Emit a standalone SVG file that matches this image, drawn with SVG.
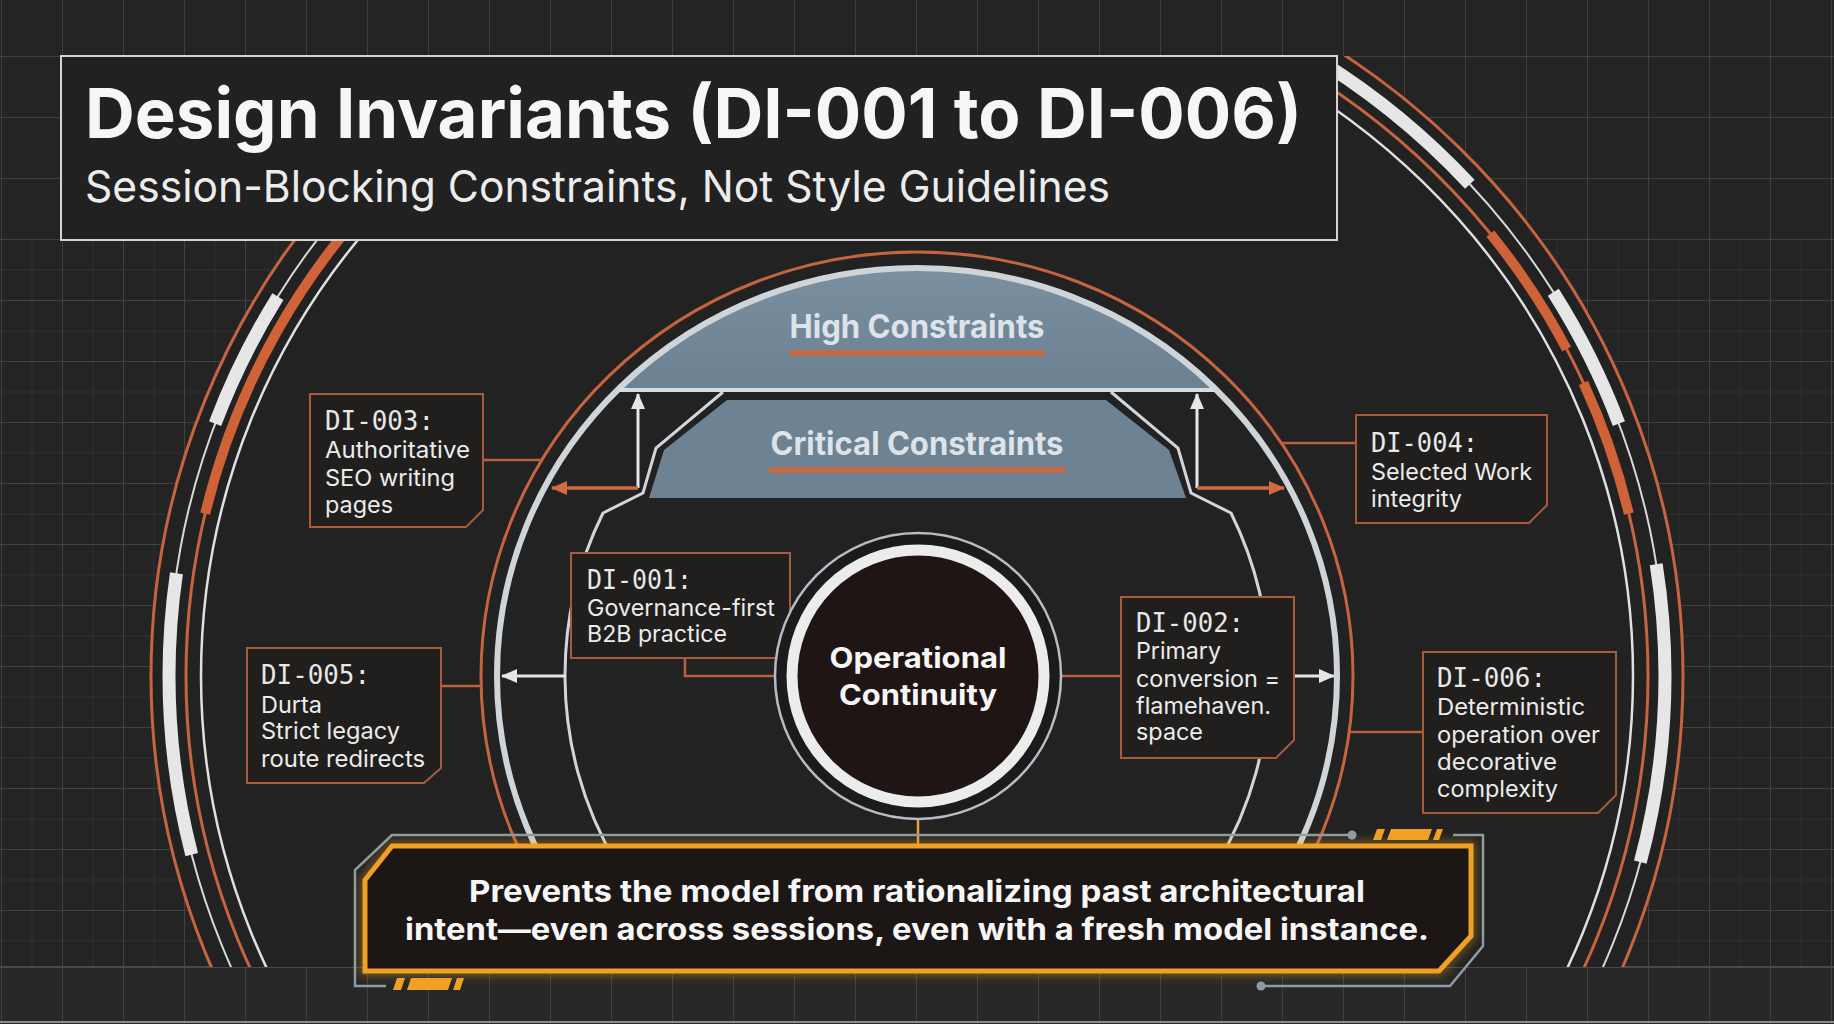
<svg xmlns="http://www.w3.org/2000/svg" width="1834" height="1024" viewBox="0 0 1834 1024">
<defs>
<pattern id="gc" patternUnits="userSpaceOnUse" x="1" y="56" width="61" height="61">
<path d="M0 0H61M0 0V61" fill="none" stroke="#474747" stroke-width="1.5"/>
</pattern>
<pattern id="gf" patternUnits="userSpaceOnUse" x="1" y="56" width="30.5" height="30.5">
<path d="M0 0H30.5M0 0V30.5" fill="none" stroke="#3b3b3b" stroke-width="1"/>
</pattern>
<pattern id="gv" patternUnits="userSpaceOnUse" x="1" y="0" width="61" height="61">
<path d="M0 0V61" fill="none" stroke="#474747" stroke-width="1.5"/>
</pattern>
<clipPath id="cr"><rect x="0" y="56" width="1834" height="911"/></clipPath>
<marker id="aw" markerUnits="userSpaceOnUse" viewBox="0 0 16 14" markerWidth="16" markerHeight="14" refX="15" refY="7" orient="auto"><path d="M0 0L16 7L0 14Z" fill="#e4e6e8"/></marker>
<marker id="ao" markerUnits="userSpaceOnUse" viewBox="0 0 16 14" markerWidth="16" markerHeight="14" refX="15" refY="7" orient="auto"><path d="M0 0L16 7L0 14Z" fill="#d06a42"/></marker>
<filter id="glow" x="-5%" y="-30%" width="110%" height="160%"><feGaussianBlur stdDeviation="5"/></filter>
<linearGradient id="hg" x1="0" y1="0" x2="0" y2="1"><stop offset="0" stop-color="#7a8fa0"/><stop offset="1" stop-color="#6b8090"/></linearGradient>
</defs>
<style>
.sans{font-family:Inter,"Noto Sans","Liberation Sans",sans-serif}
.ttl{font-weight:700;fill:#f6f6f6}
.sub{font-weight:400;fill:#ececec}
.mono{font-family:"DejaVu Sans Mono","Liberation Mono",monospace;font-size:26px;fill:#e8e8e8}
.body{font-family:Inter,"Noto Sans","Liberation Sans",sans-serif;font-size:23px;fill:#ececec}
.box{fill:#211f1e;stroke:#a65b3d;stroke-width:2}
.lo{fill:none;stroke:#c5643f;stroke-width:3}
.cn{fill:none;stroke:#b9613f;stroke-width:2.5}
.cw{fill:none;stroke:#e4e6e8;stroke-width:3}
.co{fill:none;stroke:#d06a42;stroke-width:3.5}
.wt{fill:none;stroke:#e6e6e6;stroke-width:13}
.ot{fill:none;stroke:#cf6236;stroke-width:10}
.lbl{font-family:Inter,"Noto Sans","Liberation Sans",sans-serif;font-weight:700;font-size:32px;fill:#dde3e8}
.dash{fill:#f0a024}
.gf{fill:none;stroke:#8c9ba6;stroke-width:2.5}
</style>

<g id="background">
<rect width="1834" height="1024" fill="#242424"/>
<rect x="0" y="240" width="1834" height="727" fill="url(#gf)"/>
<rect width="1834" height="967" fill="url(#gc)"/>
<rect x="0" y="967" width="1834" height="57" fill="#272727"/>
<rect x="0" y="967" width="1834" height="57" fill="url(#gv)"/>
<path d="M0 967H1834" stroke="#4a4a4a" stroke-width="2"/>
<path d="M0 1022H1834" stroke="#8a8a8a" stroke-width="2"/>
</g>

<g id="outer-rings" clip-path="url(#cr)">
<ellipse cx="917" cy="676" rx="766" ry="748" fill="#222222"/>
<ellipse class="lo" cx="917" cy="676" rx="766" ry="748"/>
<ellipse cx="917" cy="676" rx="748" ry="730" fill="none" stroke="#d8d8d8" stroke-width="2"/>
<ellipse class="wt" cx="917" cy="676" rx="748" ry="730" pathLength="360" stroke-dasharray="22 338" stroke-dashoffset="-166"/>
<ellipse class="wt" cx="917" cy="676" rx="748" ry="730" pathLength="360" stroke-dasharray="11 349" stroke-dashoffset="-200"/>
<ellipse class="wt" cx="917" cy="676" rx="748" ry="730" pathLength="360" stroke-dasharray="22 338" stroke-dashoffset="-296"/>
<ellipse class="wt" cx="917" cy="676" rx="748" ry="730" pathLength="360" stroke-dasharray="11.4 348.6" stroke-dashoffset="-328.6"/>
<ellipse class="wt" cx="917" cy="676" rx="748" ry="730" pathLength="360" stroke-dasharray="23.3 336.7" stroke-dashoffset="-351.3"/>
<ellipse class="lo" cx="917" cy="676" rx="731" ry="713"/>
<ellipse class="ot" cx="917" cy="676" rx="731" ry="713" pathLength="360" stroke-dasharray="31 329" stroke-dashoffset="-193"/>
<ellipse class="ot" cx="917" cy="676" rx="731" ry="713" pathLength="360" stroke-dasharray="11 349" stroke-dashoffset="-322"/>
<ellipse class="ot" cx="917" cy="676" rx="731" ry="713" pathLength="360" stroke-dasharray="11 349" stroke-dashoffset="-336"/>
<ellipse cx="917" cy="676" rx="716" ry="698" fill="none" stroke="#e0e0e0" stroke-width="2.5"/>
</g>

<g id="inner-rings" clip-path="url(#cr)">
<ellipse class="lo" cx="917" cy="676" rx="436" ry="424" stroke-width="3.5"/>
<path d="M617 390A420 408 0 0 1 1217 390Z" fill="url(#hg)"/>
<ellipse cx="917" cy="676" rx="420" ry="408" fill="none" stroke="#cfd4d8" stroke-width="6"/>
<path d="M619 390H1215" stroke="#d7dce0" stroke-width="4"/>
<path d="M727 400H1106L1169 450L1186 498H649L664 450Z" fill="#6d8292"/>
<path d="M723 392L656 448L643 493L603 513A352 360 0 1 0 1231 513L1191 493L1178 448L1111 392" fill="none" stroke="#d2d6da" stroke-width="3"/>
</g>

<g id="high-constraints">
<text class="lbl" x="917" y="338" text-anchor="middle" textLength="255" lengthAdjust="spacingAndGlyphs">High Constraints</text>
<rect x="790" y="350" width="255" height="6" fill="#c46a48"/>
</g>
<g id="critical-constraints">
<text class="lbl" x="917" y="455" text-anchor="middle" textLength="293" lengthAdjust="spacingAndGlyphs">Critical Constraints</text>
<rect x="769" y="467" width="297" height="6" fill="#c46a48"/>
</g>

<g id="connectors">
<path class="cw" d="M638 488V394" marker-end="url(#aw)"/>
<path class="cw" d="M1197 488V394" marker-end="url(#aw)"/>
<path class="co" d="M638 488H552" marker-end="url(#ao)"/>
<path class="co" d="M1197 488H1284" marker-end="url(#ao)"/>
<path class="cw" d="M566 676H502" marker-end="url(#aw)"/>
<path class="cw" d="M1294 676H1334" marker-end="url(#aw)"/>
<path class="cn" d="M1060 676H1121"/>
<path class="cn" d="M685 658V676H778"/>
<path class="cn" d="M484 460H541"/>
<path class="cn" d="M1281 443H1356"/>
<path class="cn" d="M441 686H481"/>
<path class="cn" d="M1349 732H1423"/>
<path d="M918 818V847" stroke="#e8a030" stroke-width="2.5"/>
</g>

<g id="di-003">
<path class="box" d="M310 394H483V510L466 527H310Z"/>
<text class="mono" x="325" y="430" textLength="109" lengthAdjust="spacingAndGlyphs">DI-003:</text>
<text class="body" x="325" y="458" textLength="145" lengthAdjust="spacingAndGlyphs">Authoritative</text>
<text class="body" x="325" y="486" textLength="130" lengthAdjust="spacingAndGlyphs">SEO writing</text>
<text class="body" x="325" y="513" textLength="68" lengthAdjust="spacingAndGlyphs">pages</text>
</g>

<g id="di-004">
<path class="box" d="M1356 415H1547V505L1529 523H1356Z"/>
<text class="mono" x="1371" y="452" textLength="107" lengthAdjust="spacingAndGlyphs">DI-004:</text>
<text class="body" x="1371" y="480" textLength="161" lengthAdjust="spacingAndGlyphs">Selected Work</text>
<text class="body" x="1371" y="507" textLength="91" lengthAdjust="spacingAndGlyphs">integrity</text>
</g>

<g id="di-001">
<rect class="box" x="571" y="553" width="219" height="105"/>
<text class="mono" x="587" y="589" textLength="105" lengthAdjust="spacingAndGlyphs">DI-001:</text>
<text class="body" x="587" y="616" textLength="188" lengthAdjust="spacingAndGlyphs">Governance-first</text>
<text class="body" x="587" y="642" textLength="140" lengthAdjust="spacingAndGlyphs">B2B practice</text>
</g>

<g id="di-002">
<path class="box" d="M1121 597H1294V740L1276 758H1121Z"/>
<text class="mono" x="1136" y="632" textLength="108" lengthAdjust="spacingAndGlyphs">DI-002:</text>
<text class="body" x="1136" y="659" textLength="85" lengthAdjust="spacingAndGlyphs">Primary</text>
<text class="body" x="1136" y="687" textLength="144" lengthAdjust="spacingAndGlyphs">conversion =</text>
<text class="body" x="1136" y="714" textLength="135" lengthAdjust="spacingAndGlyphs">flamehaven.</text>
<text class="body" x="1136" y="740" textLength="67" lengthAdjust="spacingAndGlyphs">space</text>
</g>

<g id="di-005">
<path class="box" d="M247 648H441V768L424 783H247Z"/>
<text class="mono" x="261" y="684" textLength="109" lengthAdjust="spacingAndGlyphs">DI-005:</text>
<text class="body" x="261" y="713" textLength="61" lengthAdjust="spacingAndGlyphs">Durta</text>
<text class="body" x="261" y="739" textLength="139" lengthAdjust="spacingAndGlyphs">Strict legacy</text>
<text class="body" x="261" y="767" textLength="164" lengthAdjust="spacingAndGlyphs">route redirects</text>
</g>

<g id="di-006">
<path class="box" d="M1423 652H1616V795L1598 813H1423Z"/>
<text class="mono" x="1437" y="687" textLength="109" lengthAdjust="spacingAndGlyphs">DI-006:</text>
<text class="body" x="1437" y="715" textLength="148" lengthAdjust="spacingAndGlyphs">Deterministic</text>
<text class="body" x="1437" y="743" textLength="163" lengthAdjust="spacingAndGlyphs">operation over</text>
<text class="body" x="1437" y="770" textLength="120" lengthAdjust="spacingAndGlyphs">decorative</text>
<text class="body" x="1437" y="797" textLength="121" lengthAdjust="spacingAndGlyphs">complexity</text>
</g>

<g id="operational-continuity">
<circle cx="918" cy="676" r="143" fill="#1b1b1b" stroke="#b5bec6" stroke-width="2.5"/>
<circle cx="918" cy="676" r="126" fill="#1f1514" stroke="#ececec" stroke-width="11"/>
<text class="sans ttl" x="918" y="668" font-size="29" text-anchor="middle" textLength="177" lengthAdjust="spacingAndGlyphs">Operational</text>
<text class="sans ttl" x="918" y="705" font-size="29" text-anchor="middle" textLength="158" lengthAdjust="spacingAndGlyphs">Continuity</text>
</g>

<g id="callout">
<path class="gf" d="M386 986H355V870L392 835H1348"/>
<circle cx="1352" cy="835" r="4.5" fill="#8c9ba6"/>
<path class="gf" d="M1453 835H1483V946L1450 986H1265"/>
<circle cx="1261" cy="986" r="4.5" fill="#8c9ba6"/>
<path d="M392 846H1471V936L1439 971H365V880Z" fill="none" stroke="#f0a024" stroke-width="10" opacity="0.4" filter="url(#glow)"/>
<path d="M392 846H1471V936L1439 971H365V880Z" fill="#1c1715" stroke="#f0a024" stroke-width="5"/>
<polygon class="dash" points="1373,840 1377,829 1385,829 1381,840"/>
<polygon class="dash" points="1387,840 1391,829 1432,829 1428,840"/>
<polygon class="dash" points="1433,840 1437,829 1443,829 1439,840"/>
<polygon class="dash" points="393,990 397,978 405,978 401,990"/>
<polygon class="dash" points="407,990 411,978 452,978 448,990"/>
<polygon class="dash" points="453,990 457,978 464,978 460,990"/>
<text class="sans ttl" x="917" y="902" font-size="30" text-anchor="middle" textLength="896" lengthAdjust="spacingAndGlyphs">Prevents the model from rationalizing past architectural</text>
<text class="sans ttl" x="917" y="940" font-size="30" text-anchor="middle" textLength="1024" lengthAdjust="spacingAndGlyphs">intent—even across sessions, even with a fresh model instance.</text>
</g>

<g id="title">
<rect x="61" y="56" width="1276" height="184" fill="#212121" stroke="#d4d4d4" stroke-width="2"/>
<text class="sans ttl" x="85" y="138" font-size="69" textLength="1217" lengthAdjust="spacingAndGlyphs">Design Invariants (DI-001 to DI-006)</text>
<text class="sans sub" x="85" y="202" font-size="44" textLength="1025" lengthAdjust="spacingAndGlyphs">Session-Blocking Constraints, Not Style Guidelines</text>
</g>
</svg>
